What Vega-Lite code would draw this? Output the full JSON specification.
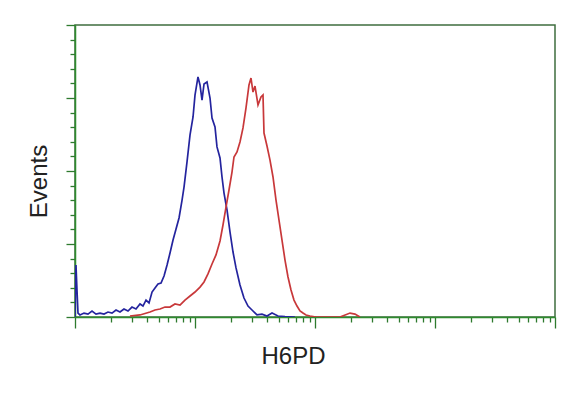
{
  "$schema": "https://vega.github.io/schema/vega-lite/v6.json",
  "width": 480,
  "height": 292,
  "autosize": {"type": "none"},
  "padding": {"left": 75, "top": 25, "right": 7, "bottom": 97},
  "background": "white",
  "config": {
    "view": {"stroke": "#3f6e3f", "strokeWidth": 1.5},
    "axis": {
      "grid": false,
      "labels": false,
      "domainColor": "#2e8b2e",
      "domainWidth": 1.5,
      "tickColor": "#2e7a2e",
      "tickWidth": 1.3,
      "titleFont": "Liberation Sans",
      "titleFontSize": 24,
      "titleFontWeight": "normal",
      "titleColor": "#222222"
    }
  },
  "data": {
    "values": [
      {"series": "control", "intensity": 1.0, "events": 0},
      {"series": "control", "intensity": 1.019, "events": 35.6},
      {"series": "control", "intensity": 1.039, "events": 18.5},
      {"series": "control", "intensity": 1.059, "events": 2.7},
      {"series": "control", "intensity": 1.10, "events": 1.4},
      {"series": "control", "intensity": 1.189, "events": 2.7},
      {"series": "control", "intensity": 1.283, "events": 2.0},
      {"series": "control", "intensity": 1.386, "events": 4.0},
      {"series": "control", "intensity": 1.496, "events": 2.0},
      {"series": "control", "intensity": 1.616, "events": 2.7},
      {"series": "control", "intensity": 1.745, "events": 2.0},
      {"series": "control", "intensity": 1.884, "events": 3.4},
      {"series": "control", "intensity": 2.034, "events": 2.7},
      {"series": "control", "intensity": 2.197, "events": 4.8},
      {"series": "control", "intensity": 2.371, "events": 3.4},
      {"series": "control", "intensity": 2.56, "events": 5.5},
      {"series": "control", "intensity": 2.765, "events": 4.1},
      {"series": "control", "intensity": 2.985, "events": 6.8},
      {"series": "control", "intensity": 3.223, "events": 5.5},
      {"series": "control", "intensity": 3.481, "events": 8.9},
      {"series": "control", "intensity": 3.686, "events": 7.5},
      {"series": "control", "intensity": 3.906, "events": 11.6},
      {"series": "control", "intensity": 4.139, "events": 9.6},
      {"series": "control", "intensity": 4.385, "events": 17.1},
      {"series": "control", "intensity": 4.642, "events": 19.9},
      {"series": "control", "intensity": 4.918, "events": 22.6},
      {"series": "control", "intensity": 5.21, "events": 23.3},
      {"series": "control", "intensity": 5.52, "events": 28.1},
      {"series": "control", "intensity": 5.85, "events": 35.6},
      {"series": "control", "intensity": 6.19, "events": 43.8},
      {"series": "control", "intensity": 6.56, "events": 52.7},
      {"series": "control", "intensity": 6.95, "events": 60.3},
      {"series": "control", "intensity": 7.36, "events": 67.8},
      {"series": "control", "intensity": 7.80, "events": 80.1},
      {"series": "control", "intensity": 8.10, "events": 89.0},
      {"series": "control", "intensity": 8.58, "events": 106.2},
      {"series": "control", "intensity": 9.09, "events": 124.7},
      {"series": "control", "intensity": 9.63, "events": 137.0},
      {"series": "control", "intensity": 10.0, "events": 152.0},
      {"series": "control", "intensity": 10.59, "events": 164.4},
      {"series": "control", "intensity": 11.01, "events": 158.9},
      {"series": "control", "intensity": 11.44, "events": 148.6},
      {"series": "control", "intensity": 11.89, "events": 159.6},
      {"series": "control", "intensity": 12.59, "events": 161.0},
      {"series": "control", "intensity": 13.34, "events": 150.0},
      {"series": "control", "intensity": 13.86, "events": 136.3},
      {"series": "control", "intensity": 14.68, "events": 130.2},
      {"series": "control", "intensity": 15.25, "events": 116.5},
      {"series": "control", "intensity": 16.16, "events": 108.9},
      {"series": "control", "intensity": 16.79, "events": 95.9},
      {"series": "control", "intensity": 17.45, "events": 84.9},
      {"series": "control", "intensity": 18.48, "events": 73.3},
      {"series": "control", "intensity": 19.58, "events": 58.2},
      {"series": "control", "intensity": 20.74, "events": 44.5},
      {"series": "control", "intensity": 21.97, "events": 33.6},
      {"series": "control", "intensity": 23.71, "events": 21.9},
      {"series": "control", "intensity": 25.6, "events": 13.0},
      {"series": "control", "intensity": 27.65, "events": 7.5},
      {"series": "control", "intensity": 29.85, "events": 4.8},
      {"series": "control", "intensity": 32.85, "events": 1.4},
      {"series": "control", "intensity": 36.15, "events": 2.0},
      {"series": "control", "intensity": 39.81, "events": 0.7},
      {"series": "control", "intensity": 43.83, "events": 2.7},
      {"series": "control", "intensity": 49.18, "events": 0.7},
      {"series": "control", "intensity": 56.23, "events": 0.3},
      {"series": "control", "intensity": 68.1, "events": 0},
      {"series": "H6PD", "intensity": 2.87, "events": 0.7},
      {"series": "H6PD", "intensity": 3.48, "events": 1.4},
      {"series": "H6PD", "intensity": 4.217, "events": 3.4},
      {"series": "H6PD", "intensity": 4.642, "events": 4.8},
      {"series": "H6PD", "intensity": 5.11, "events": 5.5},
      {"series": "H6PD", "intensity": 5.62, "events": 6.8},
      {"series": "H6PD", "intensity": 6.19, "events": 6.8},
      {"series": "H6PD", "intensity": 6.81, "events": 8.9},
      {"series": "H6PD", "intensity": 7.5, "events": 8.2},
      {"series": "H6PD", "intensity": 8.25, "events": 11.6},
      {"series": "H6PD", "intensity": 9.09, "events": 14.4},
      {"series": "H6PD", "intensity": 10.0, "events": 17.1},
      {"series": "H6PD", "intensity": 11.01, "events": 20.5},
      {"series": "H6PD", "intensity": 11.89, "events": 24.0},
      {"series": "H6PD", "intensity": 12.83, "events": 29.5},
      {"series": "H6PD", "intensity": 13.86, "events": 36.3},
      {"series": "H6PD", "intensity": 14.96, "events": 42.5},
      {"series": "H6PD", "intensity": 16.16, "events": 52.1},
      {"series": "H6PD", "intensity": 17.11, "events": 63.0},
      {"series": "H6PD", "intensity": 18.13, "events": 75.3},
      {"series": "H6PD", "intensity": 19.2, "events": 87.0},
      {"series": "H6PD", "intensity": 20.34, "events": 99.3},
      {"series": "H6PD", "intensity": 21.13, "events": 109.6},
      {"series": "H6PD", "intensity": 22.39, "events": 113.0},
      {"series": "H6PD", "intensity": 23.71, "events": 119.9},
      {"series": "H6PD", "intensity": 25.12, "events": 129.5},
      {"series": "H6PD", "intensity": 26.61, "events": 143.2},
      {"series": "H6PD", "intensity": 28.18, "events": 158.9},
      {"series": "H6PD", "intensity": 29.29, "events": 163.7},
      {"series": "H6PD", "intensity": 30.43, "events": 154.1},
      {"series": "H6PD", "intensity": 31.62, "events": 158.2},
      {"series": "H6PD", "intensity": 33.5, "events": 145.2},
      {"series": "H6PD", "intensity": 35.48, "events": 150.7},
      {"series": "H6PD", "intensity": 36.87, "events": 152.1},
      {"series": "H6PD", "intensity": 37.58, "events": 126.0},
      {"series": "H6PD", "intensity": 39.81, "events": 117.1},
      {"series": "H6PD", "intensity": 42.17, "events": 107.5},
      {"series": "H6PD", "intensity": 44.67, "events": 95.9},
      {"series": "H6PD", "intensity": 47.32, "events": 80.1},
      {"series": "H6PD", "intensity": 50.12, "events": 66.4},
      {"series": "H6PD", "intensity": 53.09, "events": 52.7},
      {"series": "H6PD", "intensity": 56.23, "events": 39.0},
      {"series": "H6PD", "intensity": 59.57, "events": 27.4},
      {"series": "H6PD", "intensity": 63.1, "events": 18.5},
      {"series": "H6PD", "intensity": 66.83, "events": 11.6},
      {"series": "H6PD", "intensity": 70.79, "events": 7.5},
      {"series": "H6PD", "intensity": 74.99, "events": 4.1},
      {"series": "H6PD", "intensity": 79.43, "events": 2.7},
      {"series": "H6PD", "intensity": 84.14, "events": 1.4},
      {"series": "H6PD", "intensity": 90.85, "events": 0.7},
      {"series": "H6PD", "intensity": 101.9, "events": 0},
      {"series": "H6PD", "intensity": 161.6, "events": 0},
      {"series": "H6PD", "intensity": 195.8, "events": 2.7},
      {"series": "H6PD", "intensity": 215.4, "events": 2.0},
      {"series": "H6PD", "intensity": 237.1, "events": 0}
    ]
  },
  "mark": {"type": "line", "strokeWidth": 1.7, "clip": true},
  "encoding": {
    "x": {
      "field": "intensity",
      "type": "quantitative",
      "title": "H6PD",
      "scale": {"type": "log", "domain": [1, 10000], "nice": false},
      "axis": {
        "values": [1,2,3,4,5,6,7,8,9,10,20,30,40,50,60,70,80,90,100,200,300,400,500,600,700,800,900,1000,2000,3000,4000,5000,6000,7000,8000,9000,10000],
        "tickSize": {"condition": {"test": "datum.value == 1 || datum.value == 10 || datum.value == 100 || datum.value == 1000 || datum.value == 10000", "value": 11}, "value": 5},
        "titlePadding": 16,
        "titleX": 218
      }
    },
    "y": {
      "field": "events",
      "type": "quantitative",
      "title": "Events",
      "scale": {"domain": [0, 200], "nice": false},
      "axis": {
        "values": [0,10,20,30,40,50,60,70,80,90,100,110,120,130,140,150,160,170,180,190,200],
        "tickSize": {"condition": {"test": "datum.value % 50 === 0", "value": 9}, "value": 5},
        "titlePadding": 14,
        "titleY": 156
      }
    },
    "color": {
      "field": "series",
      "type": "nominal",
      "scale": {"domain": ["control", "H6PD"], "range": ["#24249e", "#c8383a"]},
      "legend": null
    }
  }
}
